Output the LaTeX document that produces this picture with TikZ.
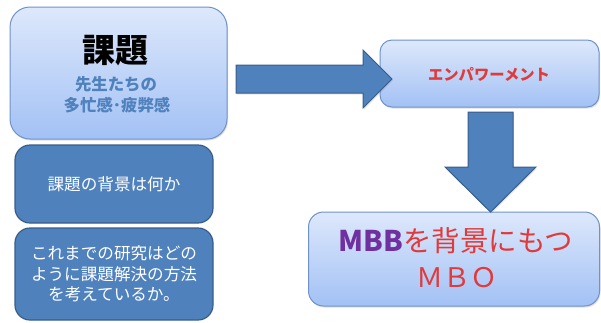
\documentclass[tikz,border=0pt]{standalone}
\usepackage{fontspec}
\setmainfont{Noto Sans CJK JP}
\usetikzlibrary{shadows}

\definecolor{officeblue}{HTML}{4F81BD}
\definecolor{officeline}{HTML}{385D8A}
\definecolor{paletop}{HTML}{DDE8FB}
\definecolor{palebottom}{HTML}{A3C1F5}
\definecolor{paleline}{HTML}{6F93C9}
\definecolor{empred}{HTML}{E03A3A}
\definecolor{mbbpurple}{HTML}{7030A0}

\tikzset{
  palebox/.style={rectangle, draw=paleline, line width=1pt, top color=paletop, bottom color=palebottom,
    drop shadow={shadow xshift=1pt, shadow yshift=-1.5pt, opacity=0.25}},
  darkbox/.style={rectangle, draw=officeline, line width=1.2pt, fill=officeblue, text=white,
    font=\fontsize{16.6}{20.5}\selectfont, align=center},
  bigarrow/.style={draw=officeline, line width=1pt, fill=officeblue, line join=miter,
    drop shadow={shadow xshift=1pt, shadow yshift=-1.5pt, opacity=0.2}}
}

\begin{document}
\begin{tikzpicture}[x=1pt,y=-1pt]
\useasboundingbox (0,0) rectangle (601,322);

% left column
\node[palebox, rounded corners=20pt, minimum width=217pt, minimum height=132pt] (kadai) at (118.5,73) {};
\node[font=\fontsize{33}{36}\selectfont\bfseries] (kadaititle) at (115,51) {課題};
\node[font=\fontsize{16.4}{20}\selectfont\bfseries, text=officeblue] (kadaisub1) at (116,84) {先生たちの};
\node[font=\fontsize{16.4}{20}\selectfont\bfseries, text=officeblue] (kadaisub2) at (117,105) {多忙感･疲弊感};

\node[darkbox, rounded corners=15pt, minimum width=198pt, minimum height=78pt] (haikei) at (114,184) {課題の背景は何か};
\node[darkbox, rounded corners=15pt, minimum width=198pt, minimum height=92pt] (kenkyu) at (114,274)
  {これまでの研究はどの\\ように課題解決の方法\\を考えているか。};

% right column
\node[palebox, rounded corners=12pt, minimum width=219pt, minimum height=67pt] (emp) at (489.5,73.5) {};
\node[font=\fontsize{15.3}{18}\selectfont\bfseries, text=empred] (emptext) at (489,74) {エンパワーメント};

\node[palebox, rounded corners=15pt, minimum width=291pt, minimum height=94pt] (mbo) at (454,259) {};
\node[font=\fontsize{28.5}{32}\selectfont] (mbbline) at (456,241)
  {\textcolor{mbbpurple}{\bfseries MBB}\textcolor{empred}{を背景にもつ}};
\node[font=\fontsize{27}{32}\selectfont, text=empred] (mboline) at (457,278) {ＭＢＯ};

% block arrows
\coordinate (harrow) at (236,65);
\coordinate (varrow) at (468,112);
\draw[bigarrow] (harrow) -- ++(127,0) -- ++(0,-15) -- ++(29,29) -- ++(-29,29) -- ++(0,-15) -- ++(-127,0) -- cycle;
\draw[bigarrow] (varrow) -- ++(45,0) -- ++(0,55) -- ++(23,0) -- ++(-45.5,45) -- ++(-45.5,-45) -- ++(23,0) -- cycle;
\end{tikzpicture}
\end{document}
